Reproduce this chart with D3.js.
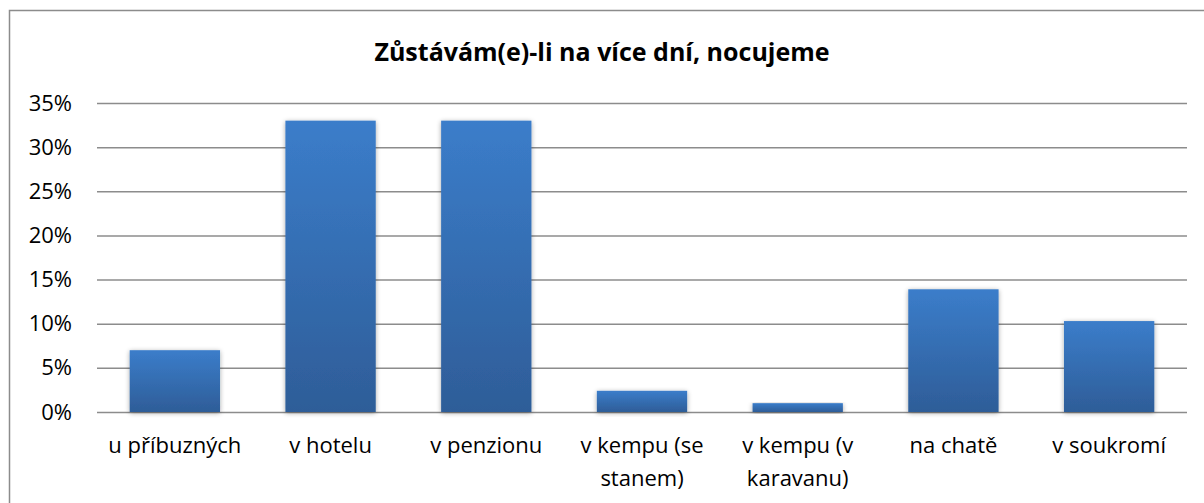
<!DOCTYPE html>
<html>
<head>
<meta charset="utf-8">
<script src="https://cdn.jsdelivr.net/npm/d3@7"></script>
<style>
  body { margin: 0; background: #fff; }
  svg text { font-family: "Open Sans", "Liberation Sans", sans-serif; fill: #000; }
</style>
</head>
<body>
<div id="chart"></div>
<script>
var categories = [["u příbuzných"], ["v hotelu"], ["v penzionu"], ["v kempu (se", "stanem)"],
  ["v kempu (v", "karavanu)"], ["na chatě"], ["v soukromí"]];
var values = [0.07, 0.33, 0.33, 0.024, 0.01, 0.139, 0.103];
var yTicks = [0, 0.05, 0.10, 0.15, 0.20, 0.25, 0.30, 0.35];
var title = "Zůstávám(e)-li na více dní, nocujeme";

var W = 1204, H = 503;
var margin = { top: 103, right: 17, bottom: 91, left: 97 },
  width = W - margin.left - margin.right,
  height = H - margin.top - margin.bottom;

var svg = d3.select("#chart").append("svg")
  .attr("width", W)
  .attr("height", H);

// outer frame
svg.append("rect")
  .attr("x", 9.5).attr("y", 10.5)
  .attr("width", W).attr("height", H)
  .attr("fill", "none")
  .attr("stroke", "#8c8c8c")
  .attr("stroke-width", 1.5);

var defs = svg.append("defs");
var grad = defs.append("linearGradient")
  .attr("id", "barGrad")
  .attr("x1", 0).attr("y1", 0).attr("x2", 0).attr("y2", 1);
grad.append("stop").attr("offset", "0%").attr("stop-color", "#3b7dca");
grad.append("stop").attr("offset", "100%").attr("stop-color", "#2e5d98");

var shadow = defs.append("filter").attr("id", "shadow")
  .attr("x", "-20%").attr("y", "-20%").attr("width", "140%").attr("height", "140%");
shadow.append("feGaussianBlur").attr("in", "SourceAlpha").attr("stdDeviation", 2.5).attr("result", "b");
shadow.append("feOffset").attr("in", "b").attr("dx", 0).attr("dy", 1).attr("result", "o");
shadow.append("feComponentTransfer").attr("in", "o").attr("result", "s")
  .append("feFuncA").attr("type", "linear").attr("slope", 0.35);
var merge = shadow.append("feMerge");
merge.append("feMergeNode").attr("in", "s");
merge.append("feMergeNode").attr("in", "SourceGraphic");

var g = svg.append("g")
  .attr("transform", "translate(" + margin.left + "," + margin.top + ")");

var x = d3.scaleBand()
  .domain(d3.range(categories.length))
  .range([0, width])
  .paddingInner(0.42)
  .paddingOuter(0.21);

var y = d3.scaleLinear().domain([0, 0.35]).range([height, 0]);

// gridlines
g.append("g")
  .attr("class", "grid")
  .call(d3.axisLeft(y).tickValues(yTicks).tickSize(-width).tickFormat(""))
  .call(function (s) { s.select(".domain").remove(); })
  .selectAll("line")
  .attr("stroke", "#8c8c8c")
  .attr("stroke-width", 1.5);

// y labels
g.append("g")
  .call(d3.axisLeft(y).tickValues(yTicks).tickSize(0).tickPadding(25).tickFormat(d3.format(".0%")))
  .call(function (s) { s.select(".domain").remove(); })
  .selectAll("text")
  .style("font-size", "22px")
  .attr("fill", "#000");

// bars
g.selectAll(".bar")
  .data(values)
  .enter()
  .append("rect")
  .attr("class", "bar")
  .attr("x", function (d, i) { return x(i); })
  .attr("y", function (d) { return y(d); })
  .attr("width", x.bandwidth())
  .attr("height", function (d) { return height - y(d); })
  .attr("fill", "url(#barGrad)")
  .attr("filter", "url(#shadow)");

// category labels
var labels = g.selectAll(".cat")
  .data(categories)
  .enter()
  .append("text")
  .attr("class", "cat")
  .attr("text-anchor", "middle")
  .attr("transform", function (d, i) {
    return "translate(" + (x(i) + x.bandwidth() / 2) + "," + (height + 41) + ")";
  })
  .style("font-size", "22px");
labels.selectAll("tspan")
  .data(function (d) { return d; })
  .enter()
  .append("tspan")
  .attr("x", 0)
  .attr("dy", function (d, i) { return i === 0 ? 0 : 33; })
  .text(function (d) { return d; });

// title
svg.append("text")
  .attr("x", 602)
  .attr("y", 61)
  .attr("text-anchor", "middle")
  .style("font-size", "25px")
  .style("font-weight", "bold")
  .text(title);
</script>
</body>
</html>
